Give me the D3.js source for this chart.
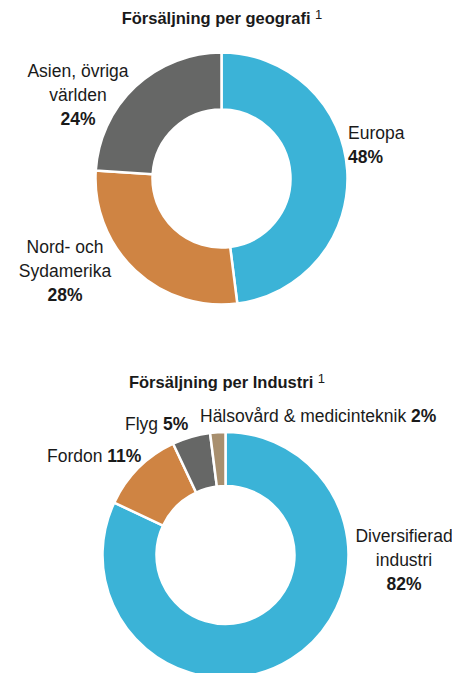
<!DOCTYPE html>
<html>
<head>
<meta charset="utf-8">
<script src="https://cdn.jsdelivr.net/npm/d3@7"></script>
<style>
  body { margin: 0; background: #fff; }
  svg text { font-family: "Liberation Sans", Arial, sans-serif; fill: #1a1a1a; }
</style>
</head>
<body>
<div id="chart"></div>
<script>
// Data
const geoTitle = "Försäljning per geografi";
const geoNames = ["Europa", "Nord- och Sydamerika", "Asien, övriga världen"];
const geoValues = [48, 28, 24];
const geoColors = ["#3bb3d7", "#cf8443", "#666766"];

const indTitle = "Försäljning per Industri";
const indNames = ["Diversifierad industri", "Fordon", "Flyg", "Hälsovård & medicinteknik"];
const indValues = [82, 11, 5, 2];
const indColors = ["#3bb3d7", "#cf8443", "#666766", "#a88f6e"];

const width = 452;
const height = 673;

const svg = d3.select("#chart")
  .append("svg")
  .attr("width", width)
  .attr("height", height);

// Draw one donut
function donut(values, colors, cx, cy, rOuter, rInner) {
  const pie = d3.pie().sort(null).value(d => d);
  const arc = d3.arc().innerRadius(rInner).outerRadius(rOuter);
  const g = svg.append("g").attr("transform", `translate(${cx},${cy})`);
  g.selectAll("path")
    .data(pie(values))
    .enter()
    .append("path")
    .attr("d", arc)
    .attr("fill", (d, i) => colors[i])
    .attr("stroke", "#fff")
    .attr("stroke-width", 2.5);
}

// Title with superscript 1
function title(text, x, y) {
  const t = svg.append("text")
    .attr("x", x)
    .attr("y", y)
    .attr("text-anchor", "middle")
    .attr("font-size", "16.5px");
  t.append("tspan").attr("font-weight", "bold").text(text + " ");
  t.append("tspan").attr("font-size", "13px").attr("dy", -5).text("1");
}

// Multi-line label: lines of [normal, bold] parts
function label(lines, x, y, anchor) {
  const t = svg.append("text")
    .attr("x", x)
    .attr("y", y)
    .attr("text-anchor", anchor)
    .attr("font-size", "17.5px");
  lines.forEach((ln, i) => {
    const first = t.append("tspan")
      .attr("x", x)
      .attr("dy", i === 0 ? 0 : 24);
    if (ln[0]) first.text(ln[0]);
    if (ln[1]) {
      if (ln[0]) {
        t.append("tspan").attr("font-weight", "bold").text(ln[1]);
      } else {
        first.attr("font-weight", "bold").text(ln[1]);
      }
    }
  });
}

// Geography
title(geoTitle, 222, 24);
donut(geoValues, geoColors, 221.5, 178.5, 126, 69);
label([["Europa"], [null, geoValues[0] + "%"]], 348, 139, "start");
label([["Asien, övriga"], ["världen"], [null, geoValues[2] + "%"]], 78, 77, "middle");
label([["Nord- och"], ["Sydamerika"], [null, geoValues[1] + "%"]], 65, 253, "middle");

// Industry
title(indTitle, 227, 388);
donut(indValues, indColors, 225.5, 555, 123, 69);
label([["Diversifierad"], ["industri"], [null, indValues[0] + "%"]], 404, 542, "middle");
label([["Fordon ", indValues[1] + "%"]], 47, 462, "start");
label([["Flyg ", indValues[2] + "%"]], 125, 430, "start");
label([["Hälsovård & medicinteknik ", indValues[3] + "%"]], 200, 422, "start");
</script>
</body>
</html>
